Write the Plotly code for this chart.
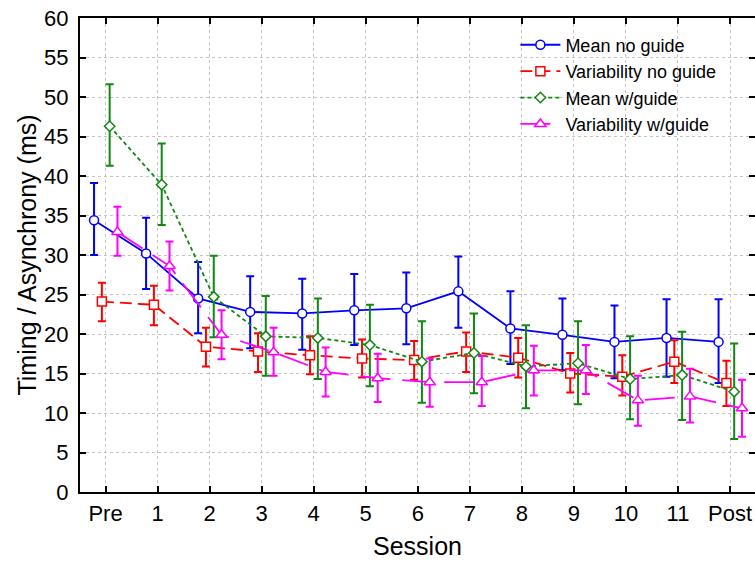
import plotly.graph_objects as go

sessions = ["Pre", "1", "2", "3", "4", "5", "6", "7", "8", "9", "10", "11", "Post"]

mean_no_guide = [34.4, 30.2, 24.5, 22.8, 22.6, 23.0, 23.25, 25.4, 20.7, 19.9, 19.0, 19.5, 19.0]
mean_no_guide_upper = [39.1, 34.7, 29.1, 27.3, 27.0, 27.6, 27.8, 29.8, 25.4, 24.5, 23.6, 24.4, 24.4]
mean_no_guide_lower = [30.0, 25.7, 20.1, 18.2, 18.0, 18.6, 18.7, 20.8, 16.2, 15.4, 14.4, 14.6, 13.8]

var_no_guide = [24.1, 23.7, 18.4, 17.8, 17.3, 16.9, 16.7, 17.8, 17.0, 15.0, 14.6, 16.5, 13.8]
var_no_guide_upper = [26.5, 26.1, 20.8, 20.1, 19.7, 19.3, 19.1, 20.2, 19.5, 17.6, 17.3, 19.2, 16.6]
var_no_guide_lower = [21.6, 21.1, 15.9, 15.2, 14.9, 14.5, 14.2, 15.2, 14.5, 12.6, 12.2, 13.8, 10.9]

mean_w_guide = [46.3, 38.9, 24.7, 19.7, 19.5, 18.6, 16.5, 17.6, 15.9, 16.3, 14.3, 14.8, 12.7]
mean_w_guide_upper = [51.6, 44.1, 29.9, 24.8, 24.5, 23.7, 21.6, 22.6, 21.1, 21.6, 19.7, 20.3, 18.8]
mean_w_guide_lower = [41.3, 33.8, 19.6, 14.7, 14.3, 13.4, 11.3, 12.5, 10.6, 11.1, 9.2, 9.1, 6.7]

var_w_guide = [32.9, 28.6, 19.9, 17.7, 15.2, 14.4, 13.9, 13.9, 15.4, 15.4, 11.6, 12.1, 10.6]
var_w_guide_upper = [36.1, 31.7, 23.0, 20.8, 18.3, 17.5, 16.9, 17.2, 18.5, 18.6, 14.7, 15.6, 14.2]
var_w_guide_lower = [29.9, 25.5, 16.8, 14.7, 12.1, 11.4, 10.8, 10.9, 12.2, 12.4, 8.4, 8.8, 7.0]

series = [
    ("Mean no guide", mean_no_guide, mean_no_guide_upper, mean_no_guide_lower,
     "#0000ff", "solid", "circle", 9, -0.22),
    ("Variability no guide", var_no_guide, var_no_guide_upper, var_no_guide_lower,
     "#ff0000", "12px,6px", "square", 9, -0.07),
    ("Mean w/guide", mean_w_guide, mean_w_guide_upper, mean_w_guide_lower,
     "#118811", "4px,3px", "diamond", 8, 0.08),
    ("Variability w/guide", var_w_guide, var_w_guide_upper, var_w_guide_lower,
     "#ff00ff", "30px,12px", "triangle-up", 10, 0.23),
]

fig = go.Figure()
for name, m, up, lo, color, dash, sym, size, off in series:
    xs = [i + off for i in range(len(sessions))]
    fig.add_trace(go.Scatter(
        x=xs, y=m, name=name, mode="lines+markers",
        line=dict(color=color, width=1.8, dash=dash),
        marker=dict(symbol=sym, size=size, color="white",
                    line=dict(color=color, width=1.5)),
        error_y=dict(type="data", symmetric=False,
                     array=[u - v for u, v in zip(up, m)],
                     arrayminus=[v - l for v, l in zip(m, lo)],
                     color=color, thickness=2, width=4),
    ))

fig.update_layout(
    width=755, height=564,
    margin=dict(l=80, r=0, t=18, b=72),
    paper_bgcolor="white", plot_bgcolor="white",
    font=dict(family="Liberation Sans, Arial, sans-serif", color="black"),
    showlegend=True,
    legend=dict(x=0.645, y=0.982, xanchor="left", yanchor="top",
                font=dict(size=18), bgcolor="rgba(0,0,0,0)",
                tracegroupgap=0, itemwidth=40),
)
fig.update_xaxes(
    range=[-0.49, 12.48], tickmode="array",
    tickvals=list(range(len(sessions))), ticktext=sessions,
    ticks="inside", ticklen=6, tickwidth=1.5, tickcolor="black",
    showline=True, linecolor="black", linewidth=2, mirror="ticks",
    showgrid=True, gridcolor="#c4c4c4", griddash="dot", gridwidth=1,
    zeroline=False, tickfont=dict(size=22), ticklabelstandoff=1,
    ticklabeloverflow="allow", automargin=False,
    title=dict(text="Session", font=dict(size=25), standoff=12),
)
fig.update_yaxes(
    range=[0, 60], tickmode="linear", tick0=0, dtick=5,
    ticks="inside", ticklen=6, tickwidth=1.5, tickcolor="black",
    showline=True, linecolor="black", linewidth=2, mirror="ticks",
    showgrid=True, gridcolor="#c4c4c4", griddash="dot", gridwidth=1,
    zeroline=False, tickfont=dict(size=22), ticklabelstandoff=5,
    ticklabeloverflow="allow", automargin=False,
    title=dict(text="Timing / Asynchrony (ms)", font=dict(size=25), standoff=0),
)

fig.write_html(
    "out.html",
    config={"displayModeBar": False},
    post_script="document.body.style.margin='0';document.body.style.overflow='hidden';",
)
